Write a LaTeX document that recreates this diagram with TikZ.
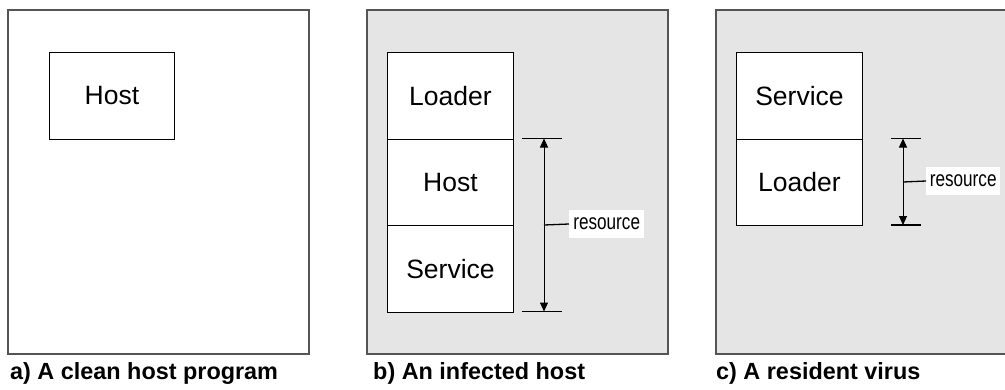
\documentclass[tikz,border=0pt]{standalone}
\usepackage{fontspec}
\setmainfont{Liberation Sans}
\newfontfamily\narrowfont[FakeStretch=0.78]{Liberation Sans}
\usetikzlibrary{arrows.meta}
\definecolor{panelgray}{RGB}{229,229,229}
\definecolor{framegray}{RGB}{85,85,85}
\tikzset{
  panel/.style={draw=framegray, line width=1.3pt},
  cell/.style={draw=black, line width=0.9pt, fill=white, inner sep=0pt,
    minimum width=126pt, minimum height=86.5pt, anchor=north west,
    font=\fontsize{26.5}{30}\selectfont},
  dimtick/.style={line width=1.3pt},
  dimline/.style={line width=1pt, {Triangle[length=9pt,width=8pt]}-{Triangle[length=9pt,width=8pt]}},
  reslabel/.style={fill=white, inner sep=0pt, minimum height=28pt, minimum width=75pt,
    anchor=west, font=\narrowfont\fontsize{22}{24}\selectfont},
  caption/.style={anchor=base west, inner sep=0pt, font=\bfseries\fontsize{23.4}{27}\selectfont}
}
\begin{document}
\begin{tikzpicture}[x=1pt,y=-1pt]
\useasboundingbox (0,0) rectangle (1005,389);

% panel a: clean host program
\draw[panel, fill=white] (8,10) rectangle (309,354);
\node[cell, minimum width=125pt, minimum height=87pt] (ahost) at (49,52) {Host};
\node[caption] (acap) at (10,379) {a) A clean host program};

% panel b: infected host
\draw[panel, fill=panelgray] (367,10) rectangle (668,354);
\node[cell] (bload) at (387,52) {Loader};
\node[cell] (bhost) at (387,138.5) {Host};
\node[cell] (bserv) at (387,225) {Service};
\coordinate (btop) at (544,138.5);
\coordinate (bbot) at (544,311.5);
\coordinate (bmid) at (544,225);
\draw[dimtick] (522,138.5) -- (562,138.5);
\draw[dimtick] (522,311.5) -- (562,311.5);
\draw[dimline] (btop) -- (bbot);
\node[reslabel] (bres) at (569,224) {resource};
\draw[dimtick] (bmid) -- (bres.west);
\node[caption] (bcap) at (373,379) {b) An infected host};

% panel c: resident virus
\draw[panel, fill=panelgray] (716,10) rectangle (1012,354);
\node[cell] (cserv) at (736,52) {Service};
\node[cell] (cload) at (736,138.5) {Loader};
\coordinate (ctop) at (903,138.5);
\coordinate (cbot) at (903,225);
\coordinate (cmid) at (903,182);
\draw[dimtick] (891,138.5) -- (921,138.5);
\draw[dimtick] (891,225) -- (921,225);
\draw[dimline] (ctop) -- (cbot);
\node[reslabel, minimum width=74pt] (cres) at (926,181) {resource};
\draw[dimtick] (cmid) -- (cres.west);
\node[caption] (ccap) at (716,379) {c) A resident virus};
\end{tikzpicture}
\end{document}
